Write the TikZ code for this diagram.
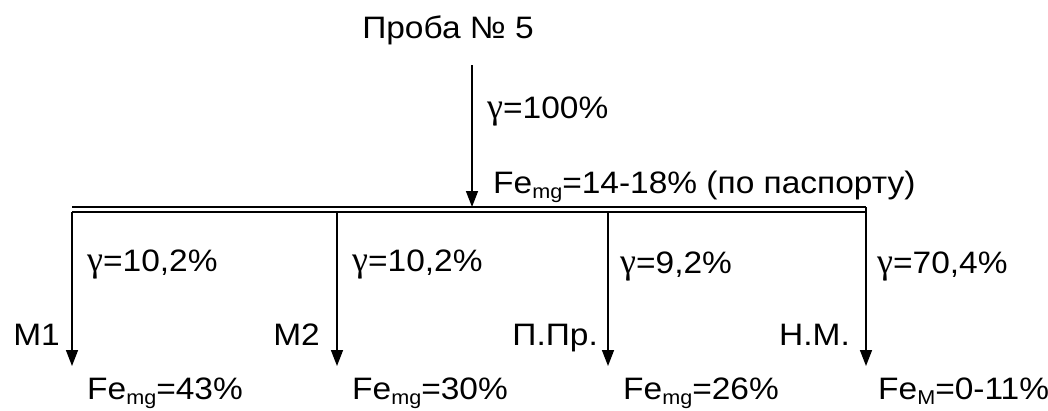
\documentclass[tikz,border=0pt]{standalone}
\usepackage{fontspec}
\setmainfont[FakeStretch=1.08]{Liberation Sans}
\newfontfamily\gfont{Liberation Serif}
\usetikzlibrary{arrows.meta}
\newcommand{\lowidx}[1]{\raisebox{-5pt}{\fontsize{20}{20}\selectfont #1}}
\newcommand{\gam}{{\gfont\fontsize{36}{36}\selectfont γ}}
\begin{document}
\begin{tikzpicture}[x=1pt,y=-1pt,
  lbl/.style={inner sep=0pt,anchor=base west,font=\fontsize{31}{36}\selectfont},
  lblr/.style={inner sep=0pt,anchor=base east,font=\fontsize{31}{36}\selectfont},
  flow/.style={line width=1.5pt,-{Triangle[length=16pt,width=12pt]}},
  bar/.style={line width=1.3pt}]
\useasboundingbox (0,0) rectangle (1048,410);
% title
\node[inner sep=0pt,anchor=base,font=\fontsize{31}{36}\selectfont] (src) at (448,38) {Проба № 5};
\coordinate (mtop) at (472,65);
\coordinate (mhit) at (472,207);
\draw[flow] (mtop) -- (mhit);
\node[lbl] (g0) at (487,118) {\gam=100\%};
\node[lbl] (f0) at (493,193) {Fe\lowidx{mg}=14-18\% (по паспорту)};
% double bar
\coordinate (bl1) at (72,207);
\coordinate (br1) at (866,207);
\coordinate (bl2) at (72,212);
\coordinate (br2) at (866,212);
\draw[bar] (bl1) -- (br1);
\draw[bar] (bl2) -- (br2);
\draw[bar] (br1) -- (br2);
% branches
\foreach \n/\x in {a/72,b/337,c/608,d/866}{
  \coordinate (\n top) at (\x,212);
  \coordinate (\n end) at (\x,366);
  \draw[flow] (\n top) -- (\n end);
}
\node[lbl] (ga) at (87,271) {\gam=10,2\%};
\node[lbl] (gb) at (352,271) {\gam=10,2\%};
\node[lbl] (gc) at (620,273) {\gam=9,2\%};
\node[lbl] (gd) at (877,273) {\gam=70,4\%};
\node[lblr] (na) at (60,345) {М1};
\node[lblr] (nb) at (320,345) {М2};
\node[lblr] (nc) at (598,345) {П.Пр.};
\node[lblr] (nd) at (850,345) {Н.М.};
\node[lbl] (fa) at (87,399) {Fe\lowidx{mg}=43\%};
\node[lbl] (fb) at (352,399) {Fe\lowidx{mg}=30\%};
\node[lbl] (fc) at (623,399) {Fe\lowidx{mg}=26\%};
\node[lbl] (fd) at (878,399) {Fe\lowidx{М}=0-11\%};
\end{tikzpicture}
\end{document}
